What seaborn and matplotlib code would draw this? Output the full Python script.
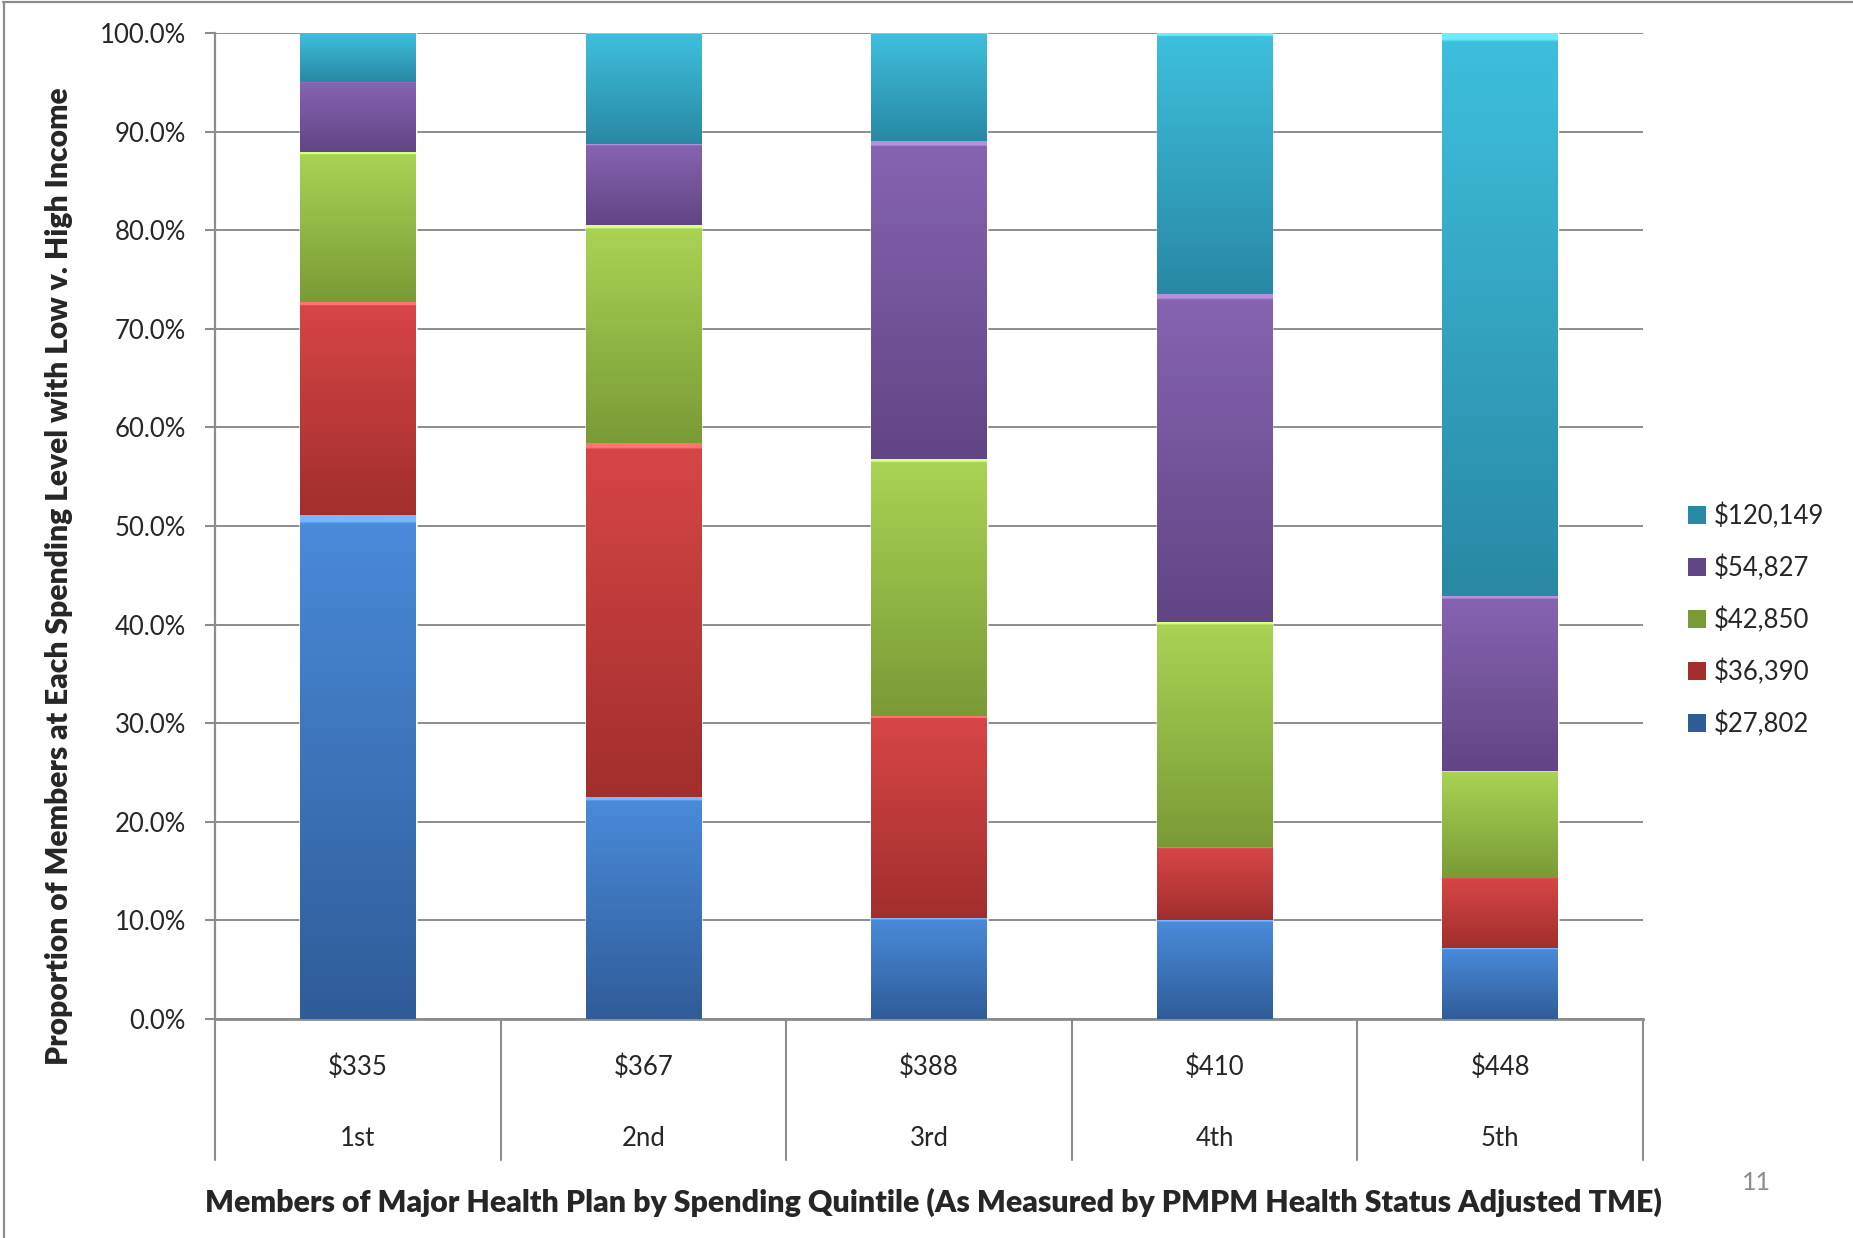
import numpy as np
import pandas as pd
import matplotlib.pyplot as plt
import matplotlib.colors as mcolors
import matplotlib.transforms as mtransforms
from matplotlib.patches import Patch
from matplotlib.lines import Line2D
import seaborn as sns

# data (% of members in each quintile)
quintiles = ['1st', '2nd', '3rd', '4th', '5th']
pmpm = ['$335', '$367', '$388', '$410', '$448']
incomes = ['$27,802', '$36,390', '$42,850', '$54,827', '$120,149']

share_27802 = [51.1, 22.5, 10.2, 10.0, 7.2]
share_36390 = [21.6, 35.9, 20.5, 7.4, 7.1]
share_42850 = [15.2, 22.1, 26.1, 22.9, 10.9]
share_54827 = [7.1, 8.2, 32.2, 33.2, 17.7]
share_120149 = [5.0, 11.3, 11.0, 26.5, 57.1]

yticks = np.arange(0, 101, 10)

# (top, bottom) gradient colours, like the excel bevel look
colors = {
    '$27,802': ('#4a8bdb', '#305c98'),
    '$36,390': ('#d84646', '#a22e2e'),
    '$42,850': ('#aad455', '#7a9a36'),
    '$54,827': ('#8764b2', '#614584'),
    '$120,149': ('#3ec0de', '#2988a4'),
}

#%%
df = pd.DataFrame({'quintile': quintiles,
                   '$27,802': share_27802,
                   '$36,390': share_36390,
                   '$42,850': share_42850,
                   '$54,827': share_54827,
                   '$120,149': share_120149})
cum = df[incomes].cumsum(axis=1)
cum['quintile'] = quintiles

#%%
sns.set_style('white')
plt.rcParams['font.family'] = ['Lato', 'DejaVu Sans']
gray = '#8c8c8c'

fig = plt.figure(figsize=(18.53, 12.38), dpi=100)
ax = fig.add_axes([215/1853, 1 - 1019/1238, 1428/1853, 986/1238])

# stacked bars: draw cumulative totals, tallest first
segments = []
for k in range(len(incomes) - 1, -1, -1):
    col = incomes[k]
    n0 = len(ax.patches)
    sns.barplot(data=cum, x='quintile', y=col, order=quintiles,
                color=mcolors.to_hex(np.mean([mcolors.to_rgb(c) for c in colors[col]], axis=0)),
                saturation=1, width=0.405, ax=ax, zorder=2)
    lower = cum[incomes[k - 1]] if k > 0 else pd.Series(np.zeros(len(quintiles)))
    for i, p in enumerate(ax.patches[n0:]):
        segments.append((p, lower.iloc[i], cum[col].iloc[i], colors[col]))

# vertical gradient on each visible segment
for p, lo, hi, (ctop, cbot) in segments:
    t = np.linspace(0, 1, 200)[:, None]
    top = np.array(mcolors.to_rgb(ctop))
    bot = np.array(mcolors.to_rgb(cbot))
    grad = (1 - t) * top + t * bot
    grad[:3] = np.clip(grad[:3] + 0.18, 0, 1)
    x0 = p.get_x()
    im = ax.imshow(grad[:, None, :], extent=[x0, x0 + p.get_width(), lo, hi],
                   aspect='auto', origin='upper', zorder=3, interpolation='bilinear')
    im.set_clip_path(p)

ax.set_xlim(-0.5, 4.5)
ax.set_ylim(0, 100)
ax.set_yticks(yticks)
ax.set_yticklabels([f'{v:.1f}%' for v in yticks], fontsize=18.5)
ax.set_xticks([])
ax.set_xlabel('')
ax.set_ylabel('')
ax.tick_params(axis='y', direction='out', length=7, width=1.5, color=gray, pad=14, left=True)
ax.yaxis.grid(True, color=gray, linewidth=1.4, zorder=0)
ax.set_axisbelow(True)
for s in ['top', 'right']:
    ax.spines[s].set_visible(False)
ax.spines['left'].set_color(gray)
ax.spines['left'].set_linewidth(1.6)
ax.spines['bottom'].set_color(gray)
ax.spines['bottom'].set_linewidth(2)

# two-level category labels with separators
trans = mtransforms.blended_transform_factory(ax.transData, ax.transAxes)
for xb in np.arange(-0.5, len(quintiles), 1):
    ax.plot([xb, xb], [0, -0.143], transform=trans, color=gray, lw=1.5, clip_on=False)
for i in range(len(quintiles)):
    ax.text(i, -0.049, pmpm[i], transform=trans, ha='center', va='center', fontsize=18.5)
    ax.text(i, -0.1217, quintiles[i], transform=trans, ha='center', va='center', fontsize=18.5)

fig.text(933/1853, 1 - 1202/1238,
         'Members of Major Health Plan by Spending Quintile (As Measured by PMPM Health Status Adjusted TME)',
         ha='center', va='center', fontsize=21.8, fontweight='heavy')
fig.text(59/1853, 1 - 576/1238,
         'Proportion of Members at Each Spending Level with Low v. High Income',
         ha='center', va='center', rotation=90, fontsize=21.6, fontweight='heavy')
fig.text(1756/1853, 1 - 1182/1238, '11', ha='center', va='center', fontsize=18, color=gray)

# legend, highest income on top
handles = [Patch(facecolor=colors[c][1], edgecolor='none') for c in reversed(incomes)]
ax.legend(handles, list(reversed(incomes)), loc='center left',
          bbox_to_anchor=(1688/1853, 1 - 620/1238), bbox_transform=fig.transFigure,
          frameon=False, fontsize=18.5, handlelength=0.7, handleheight=0.7,
          handletextpad=0.3, labelspacing=1.0, borderpad=0, borderaxespad=0)

# slide frame
fig.add_artist(Line2D([3/1853, 1], [1 - 1.5/1238, 1 - 1.5/1238], color=gray, lw=1.6))
fig.add_artist(Line2D([4/1853, 4/1853], [0, 1 - 1.5/1238], color=gray, lw=1.6))

plt.savefig('out.png', dpi=100)
